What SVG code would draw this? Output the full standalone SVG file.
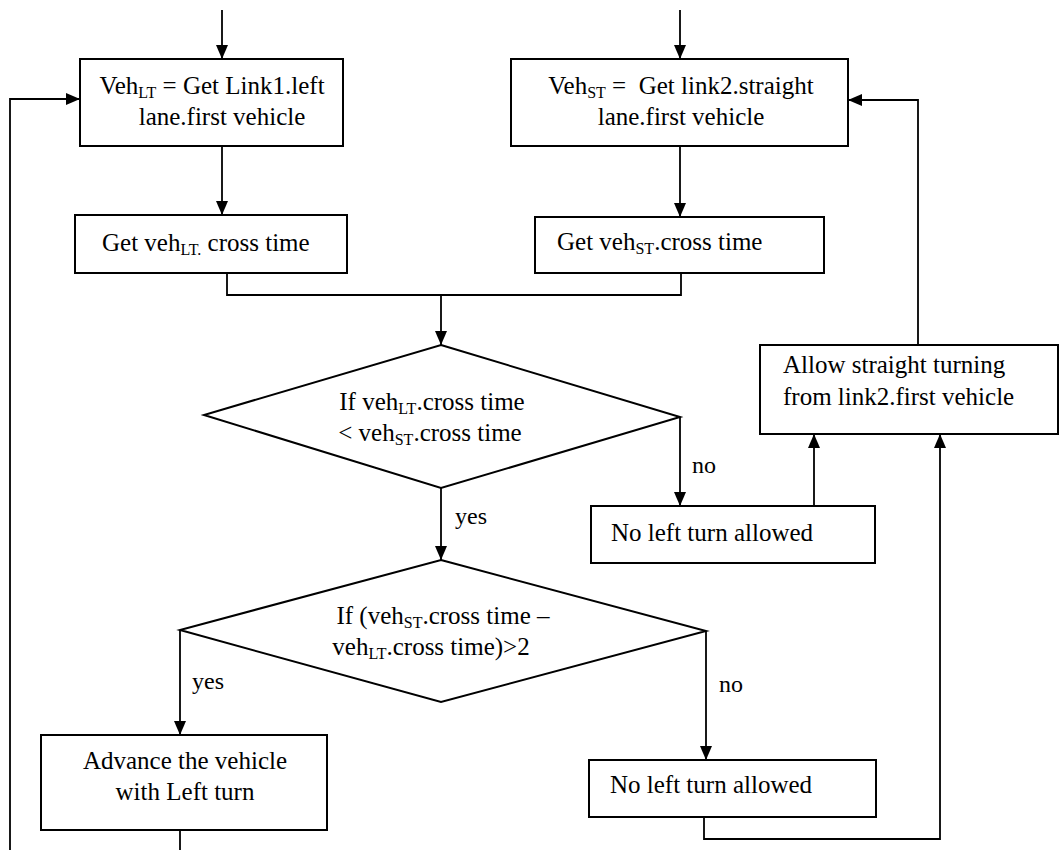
<svg xmlns="http://www.w3.org/2000/svg" width="1061" height="850" viewBox="0 0 1061 850">
  <style>
    .box { fill: #ffffff; stroke: #000000; stroke-width: 2; }
    .line { fill: none; stroke: #000000; stroke-width: 1.8; }
    .txt { font-family: "Liberation Serif", "Times New Roman", serif; font-size: 25px; fill: #000000; }
    .lbl { font-family: "Liberation Serif", "Times New Roman", serif; font-size: 24px; fill: #000000; }
    .sub { font-size: 16px; }
  </style>
  <defs>
    <marker id="arrow" viewBox="0 0 14 12" refX="14" refY="6" markerWidth="14" markerHeight="12" markerUnits="userSpaceOnUse" orient="auto">
      <path d="M0,0 L14,6 L0,12 Z" fill="#000000"/>
    </marker>
  </defs>
  <rect width="1061" height="850" fill="#ffffff"/>

  <!-- connectors -->
  <g id="connectors">
    <line class="line" x1="222" y1="10" x2="222" y2="59" marker-end="url(#arrow)"/>
    <line class="line" x1="680" y1="10" x2="680" y2="59" marker-end="url(#arrow)"/>
    <line class="line" x1="222" y1="146" x2="222" y2="215" marker-end="url(#arrow)"/>
    <line class="line" x1="680" y1="146" x2="680" y2="217" marker-end="url(#arrow)"/>
    <polyline class="line" points="227,273 227,295 681,295 681,273"/>
    <line class="line" x1="441" y1="295" x2="441" y2="345" marker-end="url(#arrow)"/>
    <line class="line" x1="680" y1="417" x2="680" y2="506" marker-end="url(#arrow)"/>
    <line class="line" x1="441" y1="488" x2="441" y2="560" marker-end="url(#arrow)"/>
    <line class="line" x1="814" y1="506" x2="814" y2="434" marker-end="url(#arrow)"/>
    <line class="line" x1="180" y1="630" x2="180" y2="735" marker-end="url(#arrow)"/>
    <line class="line" x1="706" y1="631" x2="706" y2="760" marker-end="url(#arrow)"/>
    <polyline class="line" points="704,817 704,839 940,839 940,434" marker-end="url(#arrow)"/>
    <polyline class="line" points="918,345 918,100 848,100" marker-end="url(#arrow)"/>
    <line class="line" x1="180" y1="830" x2="180" y2="850"/>
    <polyline class="line" points="10,850 10,99 80,99" marker-end="url(#arrow)"/>
  </g>

  <g id="get-left-vehicle">
    <rect class="box" x="80" y="59" width="263" height="87"/>
    <text class="txt" x="212" y="94" text-anchor="middle">Veh<tspan class="sub" dy="4">LT</tspan><tspan dy="-4"> = Get Link1.left</tspan></text>
    <text class="txt" x="222" y="125" text-anchor="middle">lane.first vehicle</text>
  </g>

  <g id="get-straight-vehicle">
    <rect class="box" x="511" y="59" width="337" height="87"/>
    <text class="txt" x="681" y="94" text-anchor="middle" xml:space="preserve">Veh<tspan class="sub" dy="4">ST</tspan><tspan dy="-4"> =  Get link2.straight</tspan></text>
    <text class="txt" x="681" y="125" text-anchor="middle">lane.first vehicle</text>
  </g>

  <g id="left-cross-time">
    <rect class="box" x="75" y="215" width="272" height="58"/>
    <text class="txt" x="102" y="251">Get veh<tspan class="sub" dy="4">LT.</tspan><tspan dy="-4"> cross time</tspan></text>
  </g>

  <g id="straight-cross-time">
    <rect class="box" x="535" y="217" width="289" height="56"/>
    <text class="txt" x="557" y="250">Get veh<tspan class="sub" dy="4">ST</tspan><tspan dy="-4">.cross time</tspan></text>
  </g>

  <g id="compare-cross-time">
    <polygon class="box" points="441,345 680,417 441,488 204,415"/>
    <text class="txt" x="432" y="410" text-anchor="middle">If veh<tspan class="sub" dy="4">LT</tspan><tspan dy="-4">.cross time</tspan></text>
    <text class="txt" x="430" y="441" text-anchor="middle">&lt; veh<tspan class="sub" dy="4">ST</tspan><tspan dy="-4">.cross time</tspan></text>
  </g>

  <g id="allow-straight">
    <rect class="box" x="760" y="345" width="298" height="89"/>
    <text class="txt" x="783" y="373">Allow straight turning</text>
    <text class="txt" x="783" y="405">from link2.first vehicle</text>
  </g>

  <g id="no-left-turn-1">
    <rect class="box" x="591" y="506" width="284" height="57"/>
    <text class="txt" x="611" y="541">No left turn allowed</text>
  </g>

  <g id="compare-gap">
    <polygon class="box" points="441,560 706,631 441,702 180,630"/>
    <text class="txt" x="443" y="624" text-anchor="middle">If (veh<tspan class="sub" dy="4">ST</tspan><tspan dy="-4">.cross time –</tspan></text>
    <text class="txt" x="431" y="655" text-anchor="middle">veh<tspan class="sub" dy="4">LT</tspan><tspan dy="-4">.cross time)&gt;2</tspan></text>
  </g>

  <g id="advance-vehicle">
    <rect class="box" x="41" y="735" width="286" height="95"/>
    <text class="txt" x="185" y="769" text-anchor="middle">Advance the vehicle</text>
    <text class="txt" x="185" y="800" text-anchor="middle">with Left turn</text>
  </g>

  <g id="no-left-turn-2">
    <rect class="box" x="589" y="760" width="287" height="57"/>
    <text class="txt" x="610" y="793">No left turn allowed</text>
  </g>

  <g id="labels">
    <text class="lbl" x="692" y="473">no</text>
    <text class="lbl" x="455" y="524">yes</text>
    <text class="lbl" x="192" y="689">yes</text>
    <text class="lbl" x="719" y="692">no</text>
  </g>
</svg>
